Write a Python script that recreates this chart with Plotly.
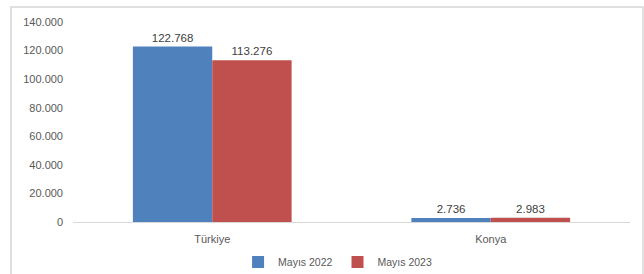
import plotly.graph_objects as go

categories = ["Türkiye", "Konya"]
series_names = ["Mayıs 2022", "Mayıs 2023"]
values_2022 = [122768, 2736]
values_2023 = [113276, 2983]
tick_vals = [0, 20000, 40000, 60000, 80000, 100000, 120000, 140000]

colors = ["#4F81BD", "#C0504D"]
font_family = "Liberation Sans, Arial, sans-serif"

fig = go.Figure()
for name, vals, col in zip(series_names, [values_2022, values_2023], colors):
    fig.add_trace(go.Bar(
        x=categories, y=vals, name=name,
        marker=dict(color=col, line=dict(width=0)),
        texttemplate="%{y:,d}", textposition="outside",
        textfont=dict(size=11.5, color="#404040", family=font_family),
        cliponaxis=False,
    ))

l, r, t, b = 73, 14, 22, 52
W, H = 644, 274
pw, ph = W - l - r, H - t - b

fig.update_layout(
    width=W, height=H,
    margin=dict(l=l, r=r, t=t, b=b, autoexpand=False),
    barmode="group", bargap=0.43, bargroupgap=0,
    separators=",.",
    paper_bgcolor="white", plot_bgcolor="white",
    font=dict(family=font_family, size=11, color="#595959"),
    showlegend=True,
    legend=dict(orientation="h", x=0.475, xanchor="center", y=(222 - 262) / ph, yanchor="middle",
                font=dict(size=10.5, color="#595959"), traceorder="normal", itemwidth=30),
    xaxis=dict(showline=False, showgrid=False, ticks="", automargin=False, ticklabelstandoff=9,
               tickfont=dict(size=11, color="#595959")),
    yaxis=dict(range=[0, 140000], tickvals=tick_vals, tickformat=",d", showgrid=False,
               zeroline=True, zerolinecolor="#D9D9D9", zerolinewidth=1, automargin=False,
               showline=False, ticks="", ticklen=0, ticklabelstandoff=9,
               tickfont=dict(size=11, color="#595959")),
    shapes=[dict(type="rect", xref="paper", yref="paper",
                 x0=(11 - l) / pw, x1=(643 - l) / pw,
                 y0=-0.4, y1=(H - b - 7) / ph,
                 line=dict(color="#D6D6D6", width=1.5), fillcolor="rgba(0,0,0,0)", layer="below")],
)

fig.write_html("out.html", config={"displayModeBar": False},
               post_script="document.body.style.margin='0';document.body.style.overflow='hidden';")
